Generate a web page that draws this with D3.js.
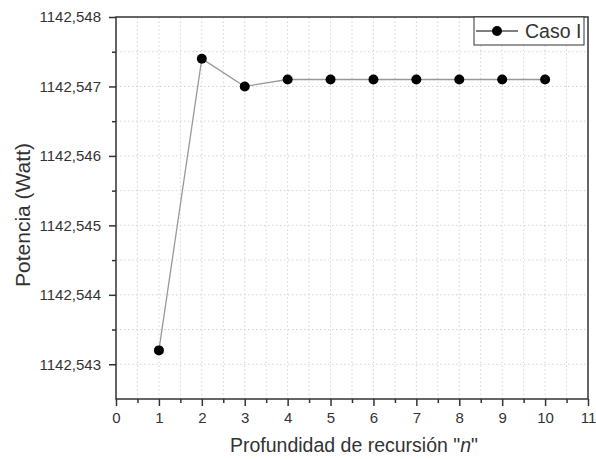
<!DOCTYPE html>
<html>
<head>
<meta charset="utf-8">
<script src="https://cdn.jsdelivr.net/npm/d3@7"></script>
<style>
body { margin: 0; background: #fff; }
text { font-family: "Liberation Sans", Arial, sans-serif; fill: #333; }
</style>
</head>
<body>
<script>
var recursion = [1, 2, 3, 4, 5, 6, 7, 8, 9, 10];
var potencia = [1142.5432, 1142.5474, 1142.5470, 1142.5471, 1142.5471, 1142.5471, 1142.5471, 1142.5471, 1142.5471, 1142.5471];
var xTicks = d3.range(0, 12);
var yTicks = [1142.543, 1142.544, 1142.545, 1142.546, 1142.547, 1142.548];
var seriesName = "Caso I";

var width = 596, height = 459;
var margin = { left: 116, right: 8, top: 17, bottom: 60 };

var svg = d3.select("body")
	.append("svg")
		.attr("width", width)
		.attr("height", height);

var x = d3.scaleLinear()
		.domain([0, 11])
		.range([margin.left, width - margin.right]);

var y = d3.scaleLinear()
		.domain([1142.5425, 1142.548])
		.range([height - margin.bottom, margin.top]);

var fmt = function(d) { return d3.format(".3f")(d).replace(".", ","); };

// dotted grid on major and minor steps
var gx = d3.range(0.5, 11, 0.5);
var gy = d3.range(1142.5425, 1142.548, 0.0005).slice(1);

svg.append("g")
	.selectAll("line")
		.data(gx)
	.enter()
	.append("line")
		.attr("x1", function(d) { return x(d); })
		.attr("x2", function(d) { return x(d); })
		.attr("y1", y.range()[0])
		.attr("y2", y.range()[1])
		.attr("stroke", "#d4d4d4")
		.attr("stroke-dasharray", "1.5,2.5");

svg.append("g")
	.selectAll("line")
		.data(gy)
	.enter()
	.append("line")
		.attr("x1", x.range()[0])
		.attr("x2", x.range()[1])
		.attr("y1", function(d) { return y(d); })
		.attr("y2", function(d) { return y(d); })
		.attr("stroke", "#d4d4d4")
		.attr("stroke-dasharray", "1.5,2.5");

// frame
svg.append("rect")
		.attr("x", x.range()[0])
		.attr("y", y.range()[1])
		.attr("width", x.range()[1] - x.range()[0])
		.attr("height", y.range()[0] - y.range()[1])
		.attr("fill", "none")
		.attr("stroke", "#333")
		.attr("stroke-width", 1.5);

// minor ticks
svg.append("g")
		.attr("transform", "translate(0," + y.range()[0] + ")")
		.call(d3.axisBottom(x).tickValues(d3.range(0.5, 11, 1)).tickSize(4).tickFormat(""))
		.call(function(g) { g.select(".domain").remove(); });

svg.append("g")
		.attr("transform", "translate(" + x.range()[0] + ",0)")
		.call(d3.axisLeft(y).tickValues(d3.range(1142.5435, 1142.548, 0.001)).tickSize(4).tickFormat(""))
		.call(function(g) { g.select(".domain").remove(); });

var xAxis = svg.append("g")
		.attr("transform", "translate(0," + y.range()[0] + ")")
		.call(d3.axisBottom(x).tickValues(xTicks).tickSize(7).tickPadding(6));

var yAxis = svg.append("g")
		.attr("transform", "translate(" + x.range()[0] + ",0)")
		.call(d3.axisLeft(y).tickValues(yTicks).tickSize(7).tickPadding(8).tickFormat(fmt));

[xAxis, yAxis].forEach(function(g) {
	g.select(".domain").remove();
	g.selectAll(".tick text").style("font-size", "15px").attr("fill", "#333");
});
svg.selectAll(".tick line").attr("stroke", "#333").attr("stroke-width", 1.5);

// series
svg.append("path")
		.datum(recursion)
		.attr("fill", "none")
		.attr("stroke", "#999")
		.attr("stroke-width", 1.3)
		.attr("d", d3.line()
			.x(function(d) { return x(d); })
			.y(function(d, i) { return y(potencia[i]); }));

svg.append("g")
	.selectAll("circle")
		.data(recursion)
	.enter()
	.append("circle")
		.attr("cx", function(d) { return x(d); })
		.attr("cy", function(d, i) { return y(potencia[i]); })
		.attr("r", 5)
		.attr("fill", "#000");

// legend
var lg = svg.append("g").attr("transform", "translate(474," + y.range()[1] + ")");
lg.append("rect")
		.attr("width", 110)
		.attr("height", 28)
		.attr("fill", "#fff")
		.attr("stroke", "#333")
		.attr("stroke-width", 1);
lg.append("line")
		.attr("x1", 2).attr("x2", 44)
		.attr("y1", 14).attr("y2", 14)
		.attr("stroke", "#555")
		.attr("stroke-width", 1.3);
lg.append("circle")
		.attr("cx", 23).attr("cy", 14).attr("r", 5).attr("fill", "#000");
lg.append("text")
		.attr("x", 51).attr("y", 21)
		.style("font-size", "19.5px")
		.text(seriesName);

// axis titles
svg.append("text")
		.attr("x", 354)
		.attr("y", 452)
		.attr("text-anchor", "middle")
		.style("font-size", "19.5px")
		.html('Profundidad de recursión "<tspan font-style="italic">n</tspan>"');

svg.append("text")
		.attr("transform", "translate(30,215) rotate(-90)")
		.attr("text-anchor", "middle")
		.style("font-size", "21px")
		.text("Potencia (Watt)");
</script>
</body>
</html>
